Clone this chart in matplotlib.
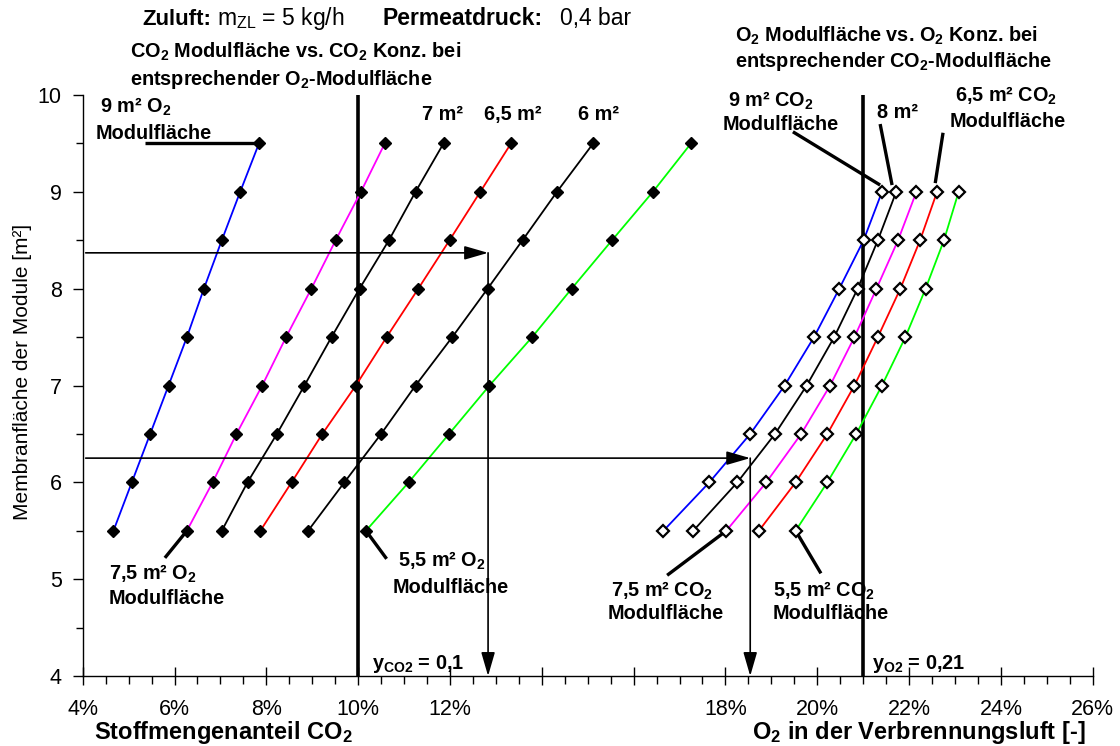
import matplotlib
matplotlib.use("Agg")
import matplotlib.pyplot as plt
from matplotlib.ticker import MultipleLocator, FixedLocator, FixedFormatter

plt.rcParams['font.family'] = ['Liberation Sans', 'DejaVu Sans']
plt.rcParams['mathtext.fontset'] = 'custom'
plt.rcParams['mathtext.rm'] = 'Liberation Sans'
plt.rcParams['mathtext.bf'] = 'Liberation Sans:bold'
plt.rcParams['mathtext.it'] = 'Liberation Sans:italic'

# ---------------- data ----------------
# CO2 side: membrane area of CO2 module (y) vs CO2 fraction in % (x)
co2_area = [5.5, 6.0, 6.5, 7.0, 7.5, 8.0, 8.5, 9.0, 9.5]
co2_o2area_9 = [4.67, 5.07, 5.47, 5.87, 6.27, 6.64, 7.03, 7.43, 7.84]
co2_o2area_75 = [6.27, 6.83, 7.35, 7.91, 8.43, 8.98, 9.51, 10.06, 10.58]
co2_o2area_7 = [7.03, 7.59, 8.23, 8.83, 9.42, 10.03, 10.67, 11.25, 11.86]
co2_o2area_65 = [7.87, 8.55, 9.22, 9.95, 10.62, 11.31, 11.99, 12.66, 13.33]
co2_o2area_6 = [8.91, 9.70, 10.50, 11.25, 12.05, 12.82, 13.58, 14.33, 15.12]
co2_o2area_55 = [10.17, 11.10, 11.98, 12.86, 13.79, 14.65, 15.53, 16.42, 17.25]

# O2 side: membrane area of O2 module (y) vs O2 fraction in % (x)
o2_area = [5.5, 6.0, 6.5, 7.0, 7.5, 8.0, 8.5, 9.0]
o2_co2area_9 = [16.65, 17.65, 18.54, 19.29, 19.93, 20.48, 21.01, 21.41]
o2_co2area_8 = [17.30, 18.26, 19.08, 19.77, 20.37, 20.88, 21.32, 21.72]
o2_co2area_75 = [18.02, 18.89, 19.65, 20.28, 20.81, 21.29, 21.76, 22.16]
o2_co2area_65 = [18.73, 19.53, 20.22, 20.81, 21.32, 21.81, 22.24, 22.61]
o2_co2area_55 = [19.53, 20.22, 20.85, 21.41, 21.92, 22.36, 22.76, 23.08]

# reference lines and example read-offs
y_co2_ref = 10.0
y_o2_ref = 21.0
read1 = (12.83, 8.37)
read2 = (18.54, 6.25)
read_start_x = 4.065

xtick_vals = [4, 6, 8, 10, 12, 14, 16, 18, 20, 22, 24, 26]
xtick_labels = ['4%', '6%', '8%', '10%', '12%', '', '', '18%', '20%', '22%', '24%', '26%']
ytick_vals = [4, 5, 6, 7, 8, 9, 10]

# ---------------- figure ----------------
W, H = 1120, 746
fig = plt.figure(figsize=(W / 100, H / 100), dpi=100)
L, R, T, B = 82.7, 1092.7, 95, 676
ax = fig.add_axes([L / W, 1 - B / H, (R - L) / W, (B - T) / H])
ax.set_xlim(4, 26)
ax.set_ylim(4, 10)

def P(px, py):
    return px / W, 1 - py / H

# series
left_series = [
    (co2_o2area_9, '#0000FF'),
    (co2_o2area_75, '#FF00FF'),
    (co2_o2area_7, '#000000'),
    (co2_o2area_65, '#FF0000'),
    (co2_o2area_6, '#000000'),
    (co2_o2area_55, '#00FF00'),
]
for xs, c in left_series:
    ax.plot(xs, co2_area, color=c, lw=1.3, zorder=3)
    ax.plot(xs, co2_area, ls='none', marker='D', ms=6.4, mfc='black', mec='black', zorder=5)

right_series = [
    (o2_co2area_9, '#0000FF'),
    (o2_co2area_8, '#000000'),
    (o2_co2area_75, '#FF00FF'),
    (o2_co2area_65, '#FF0000'),
    (o2_co2area_55, '#00FF00'),
]
for xs, c in right_series:
    ax.plot(xs, o2_area, color=c, lw=1.3, zorder=3)
    ax.plot(xs, o2_area, ls='none', marker='D', ms=6.2, mfc='white', mec='black', mew=1.6, zorder=5)

# thick reference lines
ax.axvline(y_co2_ref, color='black', lw=2.6, zorder=2)
ax.axvline(y_o2_ref, color='black', lw=2.6, zorder=2)

# read-off arrows
ap = dict(arrowstyle='-|>,head_length=1.45,head_width=0.42', lw=1.2, color='black',
          shrinkA=0, shrinkB=0)
for (cx, cy) in (read1, read2):
    ax.annotate('', xy=(cx, cy), xytext=(read_start_x, cy), arrowprops=ap, zorder=4)
    ax.annotate('', xy=(cx, 4.0), xytext=(cx, cy), arrowprops=ap, zorder=4)

# callout lines
callouts = [
    ((5.36, 9.5), (7.84, 9.5)),
    ((5.79, 5.22), (6.27, 5.5)),
    ((10.62, 5.21), (10.17, 5.5)),
    ((19.47, 9.62), (21.37, 9.07)),
    ((21.37, 9.70), (21.63, 9.07)),
    ((22.74, 9.61), (22.57, 9.09)),
    ((16.73, 5.04), (18.02, 5.5)),
    ((20.08, 5.06), (19.53, 5.5)),
]
for (x0, y0), (x1, y1) in callouts:
    ax.plot([x0, x1], [y0, y1], color='black', lw=2.4, solid_capstyle='butt', zorder=4,
            clip_on=False)

# axes styling
for s in ('top', 'right'):
    ax.spines[s].set_visible(False)
ax.spines['left'].set_linewidth(1.0)
ax.spines['bottom'].set_linewidth(1.0)
ax.xaxis.set_major_locator(FixedLocator(xtick_vals))
ax.xaxis.set_major_formatter(FixedFormatter(xtick_labels))
ax.xaxis.set_minor_locator(MultipleLocator(0.5))
ax.yaxis.set_major_locator(FixedLocator(ytick_vals))
ax.yaxis.set_minor_locator(MultipleLocator(0.5))
ax.tick_params(axis='x', which='major', direction='inout', length=13, width=1.0,
               labelsize=15.5, pad=10)
ax.tick_params(axis='x', which='minor', direction='out', length=6, width=1.0)
ax.tick_params(axis='y', which='major', direction='out', length=7, width=1.0,
               labelsize=15.5, pad=8)
ax.tick_params(axis='y', which='minor', direction='out', length=5, width=1.0)

# ---------------- texts ----------------
bsz = 14.3

def ftext(px, py, s, **kw):
    x, y = P(px, py)
    kw.setdefault('va', 'baseline')
    kw.setdefault('ha', 'left')
    fig.text(x, y, s, **kw)

ftext(142, 25, 'Zuluft:', fontsize=16, fontweight='bold')
ftext(217, 25, r'm$_{\mathrm{ZL}}$ = 5 kg/h', fontsize=16.5)
ftext(382, 25, 'Permeatdruck:', fontsize=16.5, fontweight='bold')
ftext(560, 25, '0,4 bar', fontsize=16.5)

ftext(130, 58, r'CO$_\mathbf{2}$ Modulfläche vs. CO$_\mathbf{2}$ Konz. bei', fontsize=bsz, fontweight='bold')
ftext(130, 85, r'entsprechender O$_\mathbf{2}$-Modulfläche', fontsize=bsz, fontweight='bold')
ftext(735, 42, r'O$_\mathbf{2}$ Modulfläche vs. O$_\mathbf{2}$ Konz. bei', fontsize=bsz, fontweight='bold')
ftext(735, 67, r'entsprechender CO$_\mathbf{2}$-Modulfläche', fontsize=bsz, fontweight='bold')

ftext(100, 113, r'9 m² O$_\mathbf{2}$', fontsize=bsz, fontweight='bold')
ftext(96, 139, 'Modulfläche', fontsize=bsz, fontweight='bold')
ftext(442, 120, '7 m²', fontsize=bsz, fontweight='bold', ha='center')
ftext(513, 120, '6,5 m²', fontsize=bsz, fontweight='bold', ha='center')
ftext(598, 120, '6 m²', fontsize=bsz, fontweight='bold', ha='center')

ftext(728, 107, r'9 m² CO$_\mathbf{2}$', fontsize=bsz, fontweight='bold')
ftext(723, 130, 'Modulfläche', fontsize=bsz, fontweight='bold')
ftext(877, 118, '8 m²', fontsize=bsz, fontweight='bold')
ftext(955, 102, r'6,5 m² CO$_\mathbf{2}$', fontsize=bsz, fontweight='bold')
ftext(950, 127, 'Modulfläche', fontsize=bsz, fontweight='bold')

ftext(109, 580, r'7,5 m² O$_\mathbf{2}$', fontsize=bsz, fontweight='bold')
ftext(109, 604, 'Modulfläche', fontsize=bsz, fontweight='bold')
ftext(398, 567, r'5,5 m² O$_\mathbf{2}$', fontsize=bsz, fontweight='bold')
ftext(393, 593, 'Modulfläche', fontsize=bsz, fontweight='bold')
ftext(611, 597, r'7,5 m² CO$_\mathbf{2}$', fontsize=bsz, fontweight='bold')
ftext(608, 619, 'Modulfläche', fontsize=bsz, fontweight='bold')
ftext(773, 597, r'5,5 m² CO$_\mathbf{2}$', fontsize=bsz, fontweight='bold')
ftext(773, 619, 'Modulfläche', fontsize=bsz, fontweight='bold')

ftext(372, 669, r'y$_\mathbf{CO2}$ = 0,1', fontsize=bsz, fontweight='bold')
ftext(872, 669, r'y$_\mathbf{O2}$ = 0,21', fontsize=bsz, fontweight='bold')

ftext(94, 739, r'Stoffmengenanteil CO$_\mathbf{2}$', fontsize=17, fontweight='bold')
ftext(752, 739, r'O$_\mathbf{2}$ in der Verbrennungsluft [-]', fontsize=17, fontweight='bold')

x, y = P(23, 372)
fig.text(x, y, 'Membranfläche der Module [m²]', rotation=90, ha='center', va='center',
         fontsize=15)

fig.savefig('out.png', dpi=100, facecolor='white')
